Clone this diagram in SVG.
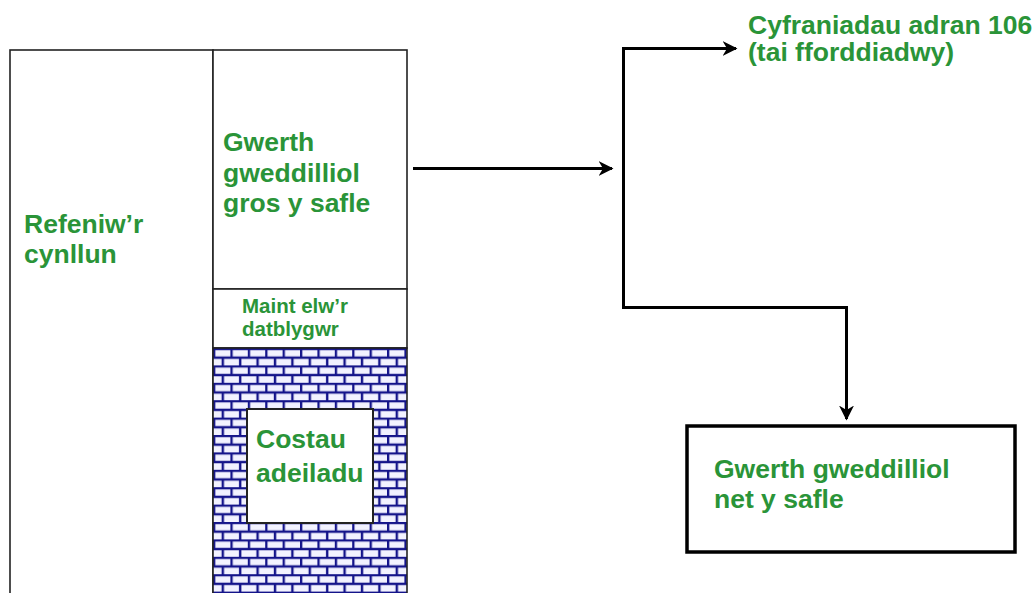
<svg xmlns="http://www.w3.org/2000/svg" width="1036" height="593" viewBox="0 0 1036 593">
  <style>
    .lbl { font-family: "Liberation Sans", Arial, sans-serif; font-weight: bold; fill: #2a9438; }
    .big { font-size: 26.5px; }
    .small { font-size: 20.5px; }
    .frame { fill: #ffffff; stroke: #222222; stroke-width: 1.6; }
    .conn { fill: none; stroke: #000000; stroke-width: 3; }
    .box { fill: #ffffff; stroke: #000000; stroke-width: 3.5; }
  </style>
  <defs>
    <!-- brickwork fill for the construction-cost band -->
    <pattern id="bricks" patternUnits="userSpaceOnUse" x="213" y="348" width="17.4" height="17.4">
      <rect x="0" y="0" width="17.4" height="17.4" fill="#f2f2ff"/>
      <path d="M0 1H17.4M0 9.7H17.4M1.1 1V9.7M9.8 9.7V17.4" stroke="#14148a" stroke-width="2.4" fill="none"/>
    </pattern>
    <marker id="arrow" viewBox="0 0 10 10" refX="9" refY="5" markerWidth="5" markerHeight="5" orient="auto" markerUnits="strokeWidth">
      <path d="M0 0L10 5L0 10L3 5Z" fill="#000000"/>
    </marker>
  </defs>

  <rect width="1036" height="593" fill="#ffffff"/>

  <!-- revenue column -->
  <g id="node-revenue">
    <rect class="frame" x="10" y="50" width="203" height="560"/>
    <text class="lbl big" x="24" y="233">Refeniw’r</text>
    <text class="lbl big" x="24" y="263">cynllun</text>
  </g>

  <!-- gross residual value -->
  <g id="node-gross">
    <rect class="frame" x="213" y="50" width="194" height="239"/>
    <text class="lbl big" x="223" y="151">Gwerth</text>
    <text class="lbl big" x="223" y="182">gweddilliol</text>
    <text class="lbl big" x="223" y="212">gros y safle</text>
  </g>

  <!-- developer profit -->
  <g id="node-profit">
    <rect class="frame" x="213" y="289" width="194" height="59"/>
    <text class="lbl small" x="242" y="313">Maint elw’r</text>
    <text class="lbl small" x="242" y="336">datblygwr</text>
  </g>

  <!-- build costs -->
  <g id="node-build">
    <rect x="213" y="348" width="194" height="260" fill="url(#bricks)" stroke="#222222" stroke-width="1.6"/>
    <rect x="247" y="409" width="126" height="114" fill="#ffffff" stroke="#222222" stroke-width="2"/>
    <text class="lbl big" x="256" y="448">Costau</text>
    <text class="lbl big" x="256" y="482">adeiladu</text>
  </g>

  <!-- section 106 -->
  <g id="node-s106">
    <text class="lbl big" x="748" y="34">Cyfraniadau adran 106</text>
    <text class="lbl big" x="748" y="61">(tai fforddiadwy)</text>
  </g>

  <!-- net residual value -->
  <g id="node-net">
    <rect class="box" x="687" y="426" width="328" height="126"/>
    <text class="lbl big" x="714" y="478">Gwerth gweddilliol</text>
    <text class="lbl big" x="714" y="508">net y safle</text>
  </g>

  <g id="connectors">
    <line class="conn" x1="413" y1="168.5" x2="612" y2="168.5" marker-end="url(#arrow)"/>
    <polyline class="conn" points="736,48.5 623.5,48.5 623.5,307.5 846.5,307.5 846.5,419" marker-end="url(#arrow)"/>
    <line class="conn" x1="700" y1="48.5" x2="736" y2="48.5" marker-end="url(#arrow)"/>
  </g>
</svg>
